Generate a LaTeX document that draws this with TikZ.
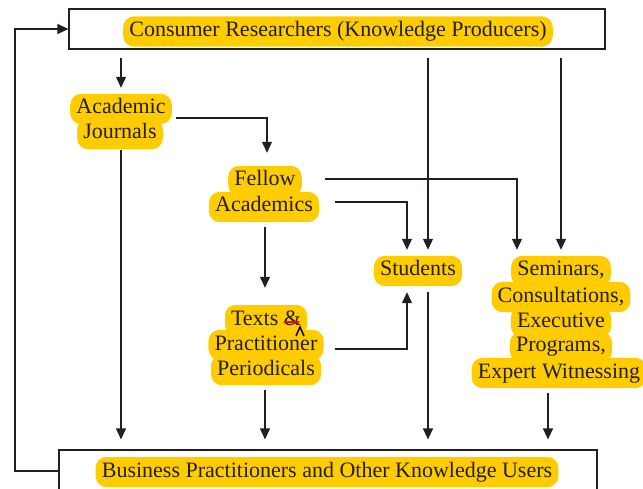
\documentclass[tikz,border=0pt]{standalone}
\usepackage{fontspec}
\setmainfont{Liberation Serif}
\usetikzlibrary{arrows.meta,backgrounds}
\definecolor{hlc}{RGB}{255,204,0}
\definecolor{ink}{RGB}{35,31,32}
\tikzset{
  lbl/.style={inner xsep=6pt, inner ysep=0pt, minimum height=30pt, text height=15pt, text depth=5pt, text=ink, font=\fontsize{22}{26}\selectfont},
  arr/.style={draw=ink, line width=1.2pt, -{Triangle[length=11pt,width=10pt]}},
  frame/.style={draw=ink, line width=1.2pt, inner sep=0pt},
}
\newcommand\hlfill[1]{\fill[hlc, rounded corners=11pt] (#1.south west) rectangle (#1.north east);}
\begin{document}
\begin{tikzpicture}[x=1pt,y=-1pt]
\clip (0,0) rectangle (643,489);
% frames
\node[frame, minimum width=536pt, minimum height=40pt] (top) at (337,29) {};
\node[frame, minimum width=538pt, minimum height=42pt] (bot) at (328,471) {};
% labels
\node[lbl] (toptxt) at (338,31.5) {Consumer Researchers (Knowledge Producers)};
\node[lbl] (aj1) at (121,109) {Academic};
\node[lbl] (aj2) at (120,134) {Journals};
\node[lbl] (fa1) at (265,181) {Fellow};
\node[lbl] (fa2) at (264,207) {Academics};
\node[lbl] (stu) at (418,271) {Students};
\node[lbl] (sem1) at (561,271) {Seminars,};
\node[lbl] (sem2) at (561,297) {Consultations,};
\node[lbl] (sem3) at (561,322) {Executive};
\node[lbl] (sem4) at (561,347) {Programs,};
\node[lbl] (sem5) at (559,373) {Expert Witnessing};
\node[lbl] (tx1) at (266,320) {Texts \&};
\node[lbl] (tx2) at (266,345) {Practitioner};
\node[lbl] (tx3) at (266,370) {Periodicals};
\node[lbl] (bottxt) at (327,472) {Business Practitioners and Other Knowledge Users};
\begin{scope}[on background layer]
  \foreach \n in {toptxt,aj1,aj2,fa1,fa2,stu,sem1,sem2,sem3,sem4,sem5,tx1,tx2,tx3,bottxt}{\hlfill{\n}}
\end{scope}
% connectors
\coordinate (stuTL) at ([xshift=-11pt,yshift=6pt]stu.north);
\coordinate (stuTR) at ([xshift=10pt,yshift=6pt]stu.north);
\coordinate (stuBL) at ([xshift=-11pt,yshift=-6pt]stu.south);
\coordinate (stuBR) at ([xshift=10pt,yshift=-6pt]stu.south);
\coordinate (semTL) at ([xshift=-44pt,yshift=6pt]sem1.north);
\coordinate (semTR) at ([yshift=6pt]sem1.north);
\coordinate (semB) at ([xshift=-11pt,yshift=-5pt]sem5.south);
\coordinate (faB) at ([yshift=-5pt]fa2.south -| fa1);
\coordinate (txT) at ([yshift=17pt]tx1.north -| fa1);
\draw[arr, shorten <=8pt] (top.south -| aj1) -- ([yshift=6pt]aj1.north);
\draw[arr] ([xshift=55pt,yshift=-9pt]aj1.center) -| ([xshift=2pt,yshift=13pt]fa1.north);
\draw[arr] ([xshift=60pt,yshift=2pt]fa1.center) -| (semTL);
\draw[arr] ([xshift=71pt,yshift=5pt]fa2.center) -| (stuTL);
\draw[arr, shorten <=8pt] (top.south -| stuTR) -- (stuTR);
\draw[arr, shorten <=8pt] (top.south -| semTR) -- (semTR);
\draw[arr] (faB) -- (txT);
\draw[arr] ([xshift=69pt,yshift=-4pt]tx2.center) -| (stuBL);
\draw[arr, shorten >=10pt] (stuBR) -- (bot.north -| stuBR);
\draw[arr, shorten >=10pt] ([yshift=-1pt]aj2.south -| aj1) -- (bot.north -| aj1);
\draw[arr, shorten >=10pt] ([yshift=-5pt]tx3.south -| fa1) -- (bot.north -| fa1);
\draw[arr, shorten >=10pt] (semB) -- (bot.north -| semB);
\coordinate (loopc) at (15,471);
\draw[arr] (bot.west) -- (bot.west -| loopc) |- (top.west);
% editing marks
\draw[red, line width=1.3pt] (284,322) -- (299,322);
\draw[black, line width=1.5pt] (296,336) -- (300,327) -- (304,336);
\end{tikzpicture}
\end{document}
